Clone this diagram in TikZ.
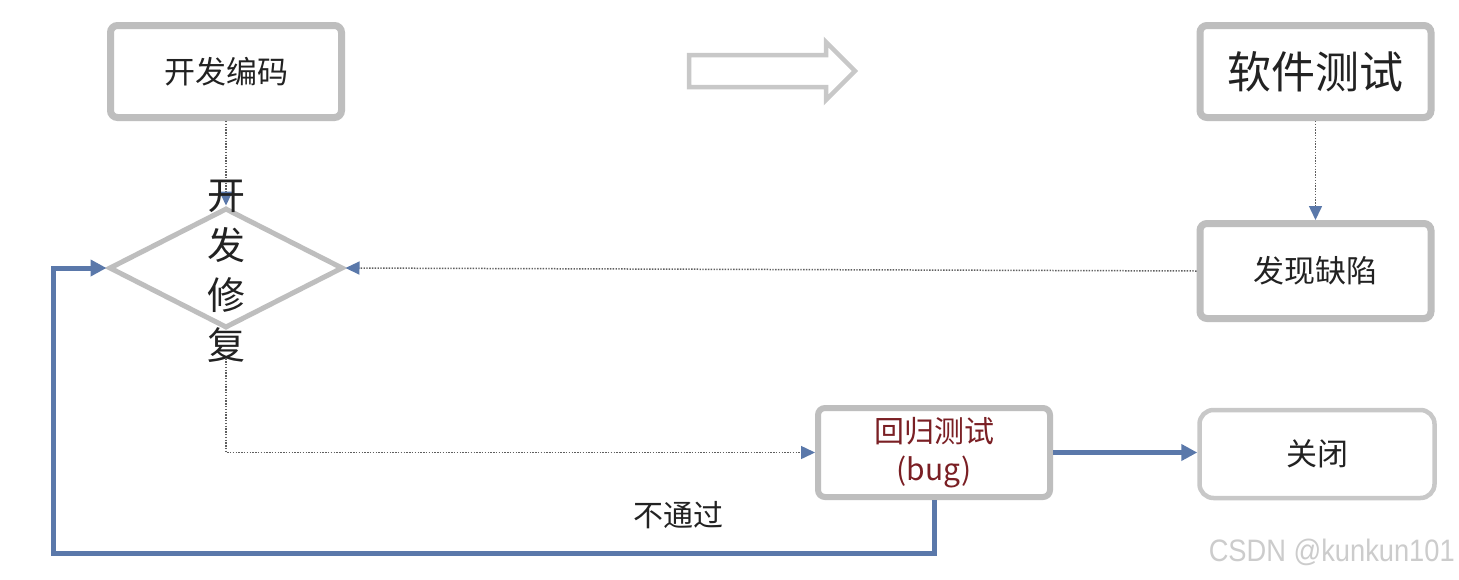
\documentclass[tikz,border=0pt]{standalone}
\usepackage{fontspec}
\setmainfont{Noto Sans CJK SC}
\newfontfamily\wmfont[FakeStretch=0.88]{Liberation Sans}
\usetikzlibrary{arrows.meta,shapes.geometric}
\definecolor{boxgray}{HTML}{BEBEBE}
\definecolor{lightgray2}{HTML}{C8C8C8}
\definecolor{flowblue}{HTML}{5A78AA}
\definecolor{dotgray}{HTML}{5E5E5E}
\definecolor{txt}{HTML}{222222}
\definecolor{darkred}{HTML}{7A1F24}
\tikzset{
  stepbox/.style={draw=boxgray, line width=7pt, rounded corners=7pt, fill=white,
    minimum width=231pt, minimum height=92pt, inner sep=0pt, text=txt,
    font=\fontsize{31}{36}\selectfont},
  dotline/.style={draw=dotgray, line width=1.5pt, dash pattern=on 1.4pt off 1.4pt,
    -{Triangle[length=14pt,width=13pt,color=flowblue]}},
  blueline/.style={draw=flowblue, line width=5pt,
    -{Triangle[length=16pt,width=16pt,color=flowblue]}},
}
\begin{document}
\begin{tikzpicture}[x=1pt,y=-1pt]
\useasboundingbox (0,0) rectangle (1459,579);
\fill[white] (0,0) rectangle (1459,579);

% boxes
\node[stepbox] (code) at (226,71.5) {开发编码};
\node[stepbox, font=\fontsize{44}{50}\selectfont] (test) at (1315.5,71.5) {软件测试};
\node[stepbox, minimum height=95pt] (defect) at (1315.5,271) {发现缺陷};
\node[stepbox, line width=6pt, minimum width=232pt, minimum height=89pt,
      text=darkred, align=center, font=\fontsize{30}{38}\selectfont] (regress) at (934,452.5) {回归测试\\(bug)};
\node[stepbox, draw=lightgray2, line width=4.5pt, rounded corners=14pt,
      minimum width=235pt, minimum height=88pt] (close) at (1317,454) {关闭};

% diamond
\node[diamond, draw=boxgray, line width=5pt, minimum width=234pt, minimum height=120pt,
      inner sep=0pt] (fix) at (226,268) {};

% hollow arrow
\draw[draw=lightgray2, line width=4.5pt, line join=miter]
  (689,55) -- (826,55) -- (826,42) -- (855,71) -- (826,100) -- (826,87) -- (689,87) -- cycle;

% connectors
\draw[dotline] (code.south) -- (fix.north);
\draw[dotline] (test.south) -- (defect.north);
\draw[dotline] (defect.west) -- (fix.east);

\node[text=txt, align=center, inner sep=0pt, font=\fontsize{38}{50}\selectfont]
  (fixtext) at (226,271) {开\\发\\修\\复};

\draw[dotline] ([yshift=4pt]fixtext.south) |- (regress.west);
\draw[blueline] (regress.east) -- (regress.east -| close.west);

\coordinate (lb) at (53,553);
\draw[blueline, line join=miter] (regress.south) |- (lb) |- (fix.west);

% labels
\node[text=txt, font=\fontsize{30}{36}\selectfont] (fail) at (678,515) {不通过};
\node[text=black!20, font=\wmfont\fontsize{31}{36}\selectfont, anchor=east, inner sep=0pt] (wm) at (1455,552) {CSDN @kunkun101};
\end{tikzpicture}
\end{document}
